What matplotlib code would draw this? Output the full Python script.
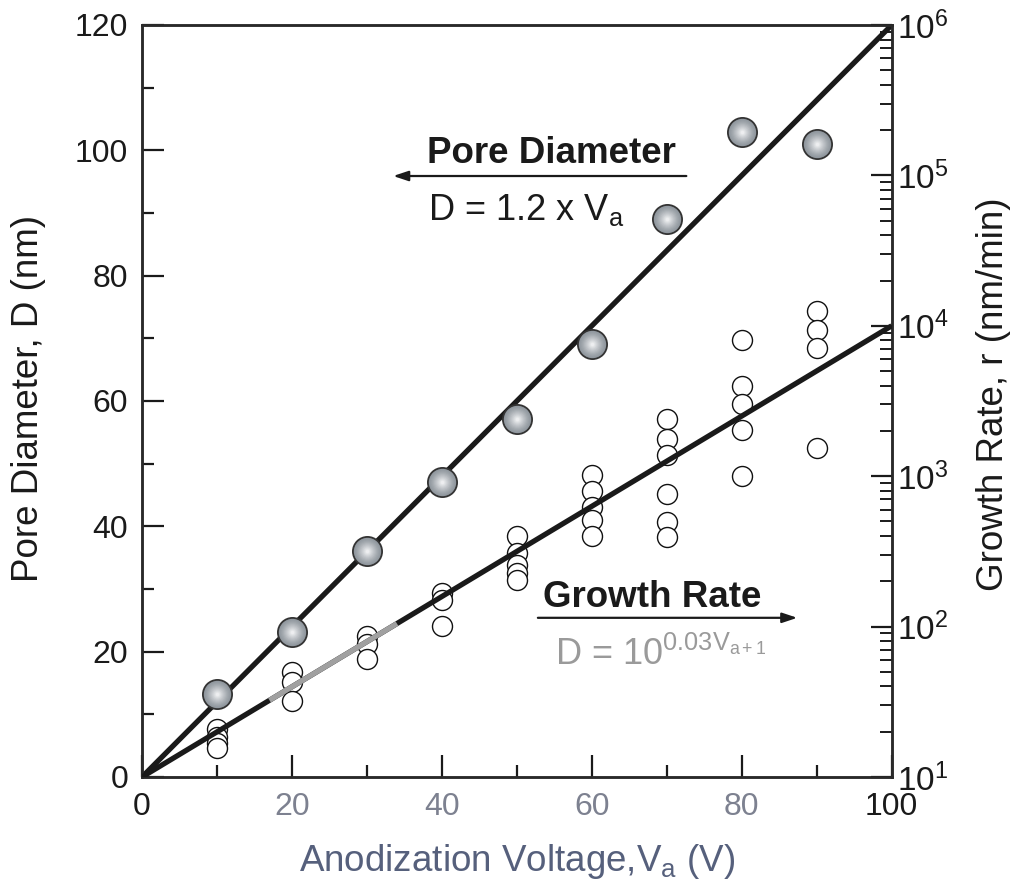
import numpy as np
import matplotlib
matplotlib.use('Agg')
import matplotlib.pyplot as plt
from matplotlib.ticker import MultipleLocator, LogLocator, NullFormatter

plt.rcParams['font.family'] = ['Liberation Sans', 'DejaVu Sans']
plt.rcParams['mathtext.fontset'] = 'custom'
plt.rcParams['mathtext.rm'] = 'Liberation Sans'
plt.rcParams['mathtext.it'] = 'Liberation Sans'
plt.rcParams['mathtext.bf'] = 'Liberation Sans:bold'

# pore diameter (nm) against anodization voltage (V)
va_pore = [10, 20, 30, 40, 50, 60, 70, 80, 90]
pore_d = [13.2, 23.1, 36.1, 47.0, 57.1, 69.1, 89.1, 103.0, 101.0]

# growth rate (nm/min), several samples per voltage
va_rate = [10, 10, 10, 10,
           20, 20, 20,
           30, 30, 30,
           40, 40, 40,
           50, 50, 50, 50, 50,
           60, 60, 60, 60, 60,
           70, 70, 70, 70, 70, 70,
           80, 80, 80, 80, 80,
           90, 90, 90, 90]
growth_r = [21, 18.5, 16.7, 15.5,
            50, 43, 32,
            86, 77, 61,
            167, 150, 101,
            400, 307, 257, 226, 204,
            1020, 800, 627, 512, 400,
            2400, 1770, 1380, 760, 494, 396,
            8050, 3980, 3020, 2030, 1010,
            12600, 9380, 7080, 1535]

# fitted lines
va_fit = np.array([0, 100])
pore_slope = 1.2          # D = 1.2 x Va
rate_exp = 0.03           # r = 10^(0.03 Va + 1)
rate_off = 1.0
va_faded = np.array([17, 34])   # washed-out part of the rate line

fig = plt.figure(figsize=(10.16, 8.89), dpi=100)
ax = fig.add_axes([0.1398, 0.126, 0.7379, 0.8459])
ax2 = ax.twinx()

ink = '#1a1a1a'

# pore diameter line + shaded balls
ax.plot(va_fit, pore_slope * va_fit, color=ink, lw=3.8, zorder=2, solid_capstyle='butt')
ax.plot(va_pore, pore_d, 'o', ms=21, mfc='#8f969d', mec='#333333', mew=1.3, zorder=3)
# soft radial shading, outside in
dark = np.array([0x8f, 0x96, 0x9d]) / 255
light = np.array([0xf8, 0xf9, 0xfa]) / 255
n_shade = 12
for i in range(1, n_shade):
    t = i / n_shade
    ax.plot(va_pore, pore_d, 'o', ms=19.5 * (1 - t) + 1.0, mfc=dark + (light - dark) * t ** 1.3,
            mec='none', zorder=4)

# growth rate open circles + line
ax2.plot(va_rate, growth_r, 'o', ms=14.4, mfc='white', mec='#111111', mew=1.0, zorder=2)
ax2.plot(va_fit, 10 ** (rate_exp * va_fit + rate_off), color=ink, lw=3.8, zorder=3,
         solid_capstyle='butt')
ax2.plot(va_faded, 10 ** (rate_exp * va_faded + rate_off), color='#a0a0a0', lw=3.8,
         zorder=3.5, solid_capstyle='butt')

# axes limits / ticks
ax.set_xlim(0, 100)
ax.set_ylim(0, 120)
ax2.set_ylim(10, 1e6)
ax2.set_yscale('log')

ax.xaxis.set_major_locator(MultipleLocator(20))
ax.xaxis.set_minor_locator(MultipleLocator(10))
ax.yaxis.set_major_locator(MultipleLocator(20))
ax.yaxis.set_minor_locator(MultipleLocator(10))
ax2.yaxis.set_major_locator(LogLocator(base=10, numticks=10))
ax2.yaxis.set_minor_locator(LogLocator(base=10, subs=np.arange(2, 10), numticks=20))
ax2.yaxis.set_minor_formatter(NullFormatter())

ax.tick_params(which='major', direction='in', length=16, width=1.6, labelsize=23,
               top=False, right=False, colors=ink)
ax.tick_params(which='minor', direction='in', length=8.5, width=1.6, top=False, right=False,
               colors=ink)
ax.tick_params(axis='y', which='major', pad=10)
ax.tick_params(axis='x', which='major', pad=11)
ax2.tick_params(which='major', direction='in', length=15, width=1.6, labelsize=24, pad=4,
                colors=ink)
ax2.tick_params(which='minor', direction='in', length=8.5, width=1.4, colors=ink)

for a in (ax, ax2):
    for sp in a.spines.values():
        sp.set_linewidth(1.8)
        sp.set_color('#2a2a2a')

for lab in ax.get_xticklabels():
    if lab.get_text() in ('20', '40', '60', '80'):
        lab.set_color('#7d8190')

# axis titles
fig.text(0.0276, 0.552, 'Pore Diameter, D (nm)', rotation=90, ha='center', va='center',
         fontsize=26.5, color=ink)
fig.text(0.978, 0.557, 'Growth Rate, r (nm/min)', rotation=90, ha='center', va='center',
         fontsize=26.5, color=ink)
fig.text(0.509, 0.0304, 'Anodization Voltage,V$_\\mathrm{a}$ (V)', ha='center', va='center',
         fontsize=26.5, color='#56607c')

# annotations
ax.text(38.0, 98.0, 'Pore Diameter', fontsize=26.5, fontweight='bold', color=ink,
        ha='left', va='baseline')
ax.annotate('', xy=(33.5, 95.9), xytext=(72.6, 95.9),
            arrowprops=dict(arrowstyle='-|>,head_length=0.9,head_width=0.3', color=ink, lw=1.6,
                            shrinkA=0, shrinkB=0))
ax.text(38.1, 88.9, 'D = 1.2 x V$_\\mathrm{a}$', fontsize=26, color=ink,
        ha='left', va='baseline')

ax.text(53.5, 27.1, 'Growth Rate', fontsize=26.5, fontweight='bold', color=ink,
        ha='left', va='baseline')
ax.annotate('', xy=(87.4, 25.4), xytext=(52.8, 25.4),
            arrowprops=dict(arrowstyle='-|>,head_length=0.9,head_width=0.3', color=ink, lw=1.6,
                            shrinkA=0, shrinkB=0))
ax.text(55.1, 17.9, 'D = 10$^{\\mathrm{0.03V_{a+1}}}$', fontsize=26, color='#9a9a9a',
        ha='left', va='baseline')

fig.savefig('out.png', dpi=100)
